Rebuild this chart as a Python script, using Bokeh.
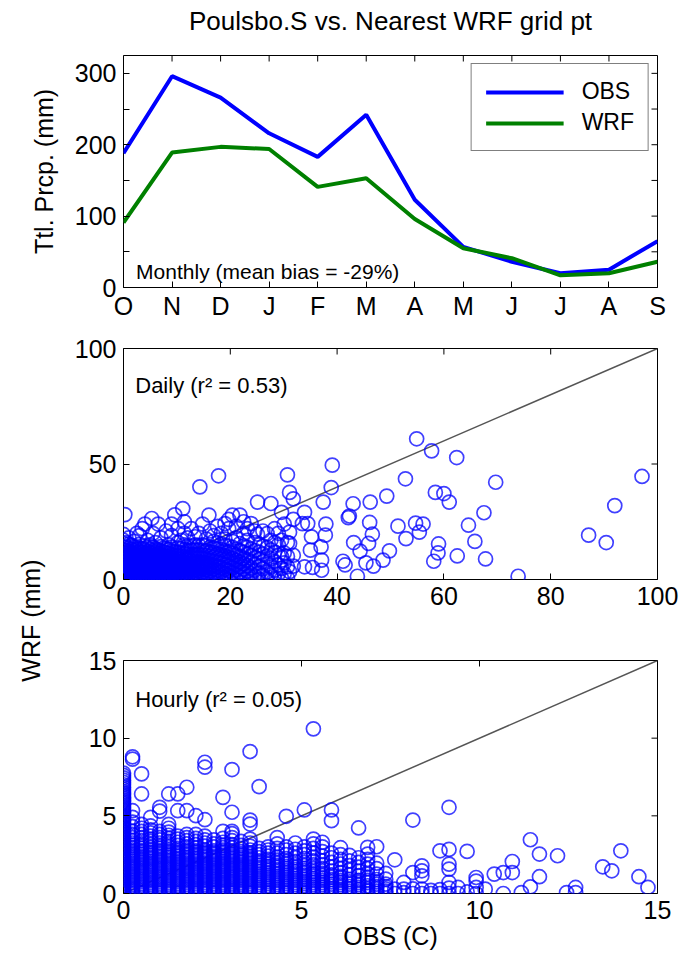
import numpy as np
from bokeh.plotting import figure
from bokeh.models import (ColumnDataSource, FixedTicker, Range1d, Label,
                          Legend, LegendItem, Slope)
from bokeh.layouts import column, row
from bokeh.embed import file_html
from bokeh.resources import INLINE

FONT = "Liberation Sans"
TICK_FS = "25px"
LAB_FS = "25px"
NOTE_FS = "22px"


def vals(s):
    return [float(t) for t in s.split()]


# ---------------- data ----------------
title_text = "Poulsbo.S vs. Nearest WRF grid pt"
months = ["O", "N", "D", "J", "F", "M", "A", "M", "J", "J", "A", "S"]
obs_monthly = [188, 296, 266, 216, 183, 242, 123, 57, 36, 20, 25, 65]
wrf_monthly = [91, 189, 197, 194, 141, 153, 96, 55, 41, 17, 20, 36]

# daily: OBS value and the WRF values read at that OBS value
daily_obs_levels = [0.0, 0.25, 0.5, 1.0, 1.5, 2.0, 2.5, 3.0, 3.5, 4.0, 4.5, 5.0, 5.3, 5.5,
                    6.0, 6.5, 7.0, 7.5, 8.0, 8.5, 9.0, 9.6, 10.2, 10.8, 11.1, 11.4, 12.0,
                    12.7, 13.4, 14.1, 14.3, 14.8, 15.5, 16.0, 16.2, 16.9, 17.6, 17.8, 18.3,
                    19.0, 19.7, 20.4, 21.1, 21.8, 22.5, 23.2, 23.9, 24.6, 25.1, 25.4, 26.1,
                    26.9, 27.6, 28.3, 29.0, 29.6, 30.1, 30.7, 31.1, 31.8, 33.5, 33.9, 34.5,
                    35.0, 35.2, 35.4, 37.0, 37.1, 37.4, 37.8, 37.9, 38.9, 39.1, 41.1, 41.5,
                    42.1, 42.3, 43.0, 43.1, 43.8, 44.3, 45.4, 45.9, 46.1, 46.2, 46.6, 46.8,
                    48.6, 49.3, 49.8, 51.4, 52.8, 52.9, 54.7, 54.9, 55.4, 56.1, 57.7, 58.1,
                    58.4, 58.9, 59.0, 60.0, 61.0, 62.4, 62.5, 64.6, 65.8, 67.5, 67.8, 69.7,
                    73.9, 87.1, 90.4, 92.0, 97.1]
daily_wrf_at_level = [vals(s) for s in [
    "0 0.6 1.3 2.1 2.8 3.6 4.5 5.3 6.1 7.0 7.8 8.7 9.6 10.5 11.6 12.8 14.1 15.5 17 19.5",
    "28.1",
    "0.2 1.0 1.8 2.5 3.3 4.1 5.0 5.8 6.7 7.5 8.4 9.3 10.2 11.3 12.5 14 16",
    "0 0.7 1.5 2.3 3.0 3.9 4.7 5.5 6.4 7.2 8.1 9.0 9.9 11 12.2 13.5 15.3 18",
    "0.4 1.2 2.0 2.8 3.5 4.4 5.2 6.0 6.9 7.7 8.6 9.5 10.6 11.8 13.1 14.7",
    "0 0.8 1.6 2.4 3.2 4.0 4.9 5.7 6.5 7.4 8.2 9.1 10.1 11.2 12.6 14.2 16.5",
    "0.3 1.1 1.9 2.7 3.5 4.3 5.1 6.0 6.8 7.6 8.5 9.4 10.4 11.5 12.9 20",
    "0 0.7 1.5 2.3 3.1 3.9 4.7 5.5 6.3 7.2 8.0 8.9 9.8 10.9 12.1 13.6 15.2 19",
    "0.4 1.2 2.0 2.8 3.6 4.5 5.3 6.1 7.0 7.8 8.7 9.6 10.7 11.9 13.3 22",
    "0 0.9 1.7 2.5 3.3 4.1 5.0 5.8 6.6 7.5 8.3 9.2 10.2 11.4 12.8 14.5 24",
    "0.3 1.1 1.9 2.7 3.6 4.4 5.2 6.1 6.9 7.8 8.7 9.7 10.8 12.1 13.8 17",
    "0 0.8 1.6 2.4 3.2 4.0 4.8 5.7 6.5 7.4 8.3 9.2 10.3 11.5 13.0 15",
    "26.4",
    "0.5 1.3 2.1 2.9 3.8 4.6 5.4 6.3 7.1 8.0 8.9 9.9 11.1 12.4 14 20",
    "0 0.8 1.6 2.5 3.3 4.1 5.0 5.8 6.7 7.5 8.4 9.4 10.5 11.8 13.4 16",
    "0.3 1.2 2.0 2.8 3.7 4.5 5.4 6.2 7.1 8.0 8.9 10.0 11.3 12.8 24",
    "0 0.9 1.7 2.6 3.4 4.3 5.1 6.0 6.9 7.8 8.7 9.7 10.9 12.3 14.2 18",
    "0.4 1.3 2.1 3.0 3.8 4.7 5.6 6.4 7.3 8.3 9.3 10.5 12 13.6",
    "0 0.8 1.7 2.5 3.4 4.3 5.1 6.0 6.9 7.9 8.9 10.1 11.5 13.2 21",
    "0.5 1.3 2.2 3.1 3.9 4.8 5.7 6.6 7.6 8.6 9.8 11.2 12.9 15",
    "0 0.9 1.8 2.6 3.5 4.4 5.3 6.2 7.2 8.2 9.4 10.7 12.2 14 19 24",
    "0.4 1.3 2.2 3.1 4.0 4.9 5.9 6.9 7.9 9.1 10.4 12 28.0",
    "0 0.9 1.8 2.7 3.7 4.6 5.6 6.6 7.7 8.9 10.2 11.8 13.6 16 22",
    "0.5 1.5 2.4 3.4 4.4 5.4 6.5 7.6 8.8 10.1 11.6 13.4 17",
    "30.7",
    "0 1.0 2.0 3.0 4.1 5.1 6.2 7.3 8.5 9.8 11.3 13 15 20 25",
    "0.6 1.6 2.7 3.7 4.8 5.9 7.0 8.2 9.5 11 12.7 14.6 18",
    "0 1.1 2.2 3.3 4.4 5.6 6.8 8.0 9.4 10.9 12.6 14.5 22",
    "0.5 1.7 2.9 4.1 5.3 6.6 7.9 9.3 10.9 12.7 15 18.5",
    "0 1.2 2.4 3.7 5.0 6.3 7.7 9.2 10.8 12.6 14.8 20",
    "40.1",
    "0.6 1.9 3.2 4.6 6.0 7.5 9.0 10.7 12.6 15 24",
    "0 1.4 2.8 4.2 5.7 7.2 8.8 10.5 12.4 14.6 17.5",
    "27.9",
    "0.7 2.1 3.6 5.1 6.7 8.3 10.0 11.9 14 21",
    "0 1.5 3.0 4.6 6.2 7.9 9.7 11.6 13.7 16.5 19",
    "0.8 2.4 4.0 5.7 7.4 9.2 11.1 13.2 15.8 23",
    "44.9",
    "0 1.7 3.4 5.1 6.9 8.8 10.8 13 15.4 20",
    "0.9 2.6 4.4 6.3 8.2 10.2 12.4 14.8 17.5 24.2",
    "0 1.8 3.7 5.6 7.6 9.7 12 14.5 22 26",
    "1.0 2.9 4.9 6.9 9.1 11.4 13.9 16.5 27.9",
    "0 2.0 4.0 6.1 8.3 10.6 13.1 18 23",
    "1.1 3.2 5.4 7.6 10 12.5 15.5 27.9",
    "0 2.2 4.5 6.8 9.2 11.8 14.6 20 25",
    "1.3 3.6 6.0 8.5 11.1 13.9 17 22",
    "0 2.5 5.0 7.6 10.3 13.2 24.2",
    "1.5 4.0 6.7 9.5 12.5 16 21",
    "19.6 33.5",
    "0 2.8 5.6 8.6 11.8 15",
    "1.7 4.6 7.7 11 14.5 21",
    "0 3.2 6.5 10 13.8 19.9",
    "2.0 5.4 9.0 12.8 17 32.9",
    "0.4 4.0 7.8 11.8 16 22",
    "2.4 6.4 10.6 15 20",
    "0.4 4.8 9.8 17 29.1",
    "2.6 7.2 11.5 24",
    "0.6 5.5 10 16 45.3",
    "3.4 15.6 20.5 37.7",
    "5.8 10.5 26 34.9",
    "24.2", "5.5 29.1", "24.2", "12.7", "18.5", "5.2", "14.1", "4.0 8.4", "33.5",
    "19.2", "24.0", "39.8", "49.5", "7.9", "6.3", "26.8", "27.5", "32.8", "16.0",
    "1.4", "12.3", "7.2", "15.6", "24.7", "33.5", "19.6", "5.8", "8.4", "36.1",
    "12.4", "23.1", "43.6", "17.7", "24.4", "60.9", "20.5", "24.0", "55.7", "7.9",
    "37.7", "11.5", "15.4", "37.2", "33.5", "52.8", "10.2", "23.5", "16.5", "28.9",
    "8.9", "42.1", "1.4", "19.2", "16.0", "32.0", "44.6",
]]

# hourly: OBS value (0.254 mm steps) and the WRF values read at that OBS value
hourly_obs_levels = [0.0, 0.254, 0.508, 0.762, 1.016, 1.27, 1.524, 1.778, 2.032, 2.286, 2.54,
                     2.794, 3.048, 3.302, 3.556, 3.81, 4.064, 4.318, 4.572, 4.826, 5.08, 5.334,
                     5.588, 5.842, 6.096, 6.35, 6.604, 6.858, 7.112, 7.366, 7.62, 7.874, 8.128,
                     8.382, 8.636, 8.89, 9.144, 9.398, 9.652, 9.906, 10.16, 10.414, 10.668,
                     10.922, 11.176, 11.43, 11.684, 12.192, 12.446, 12.7, 13.462, 13.716,
                     13.97, 14.478, 14.732]
hourly_wrf_at_level = [vals(s) for s in [
    "0 .08 .17 .25 .33 .42 .5 .6 .68 .77 .85 .95 1.03 1.12 1.2 1.3 1.38 1.47 1.55 1.65 1.73 "
    "1.82 1.9 2 2.08 2.17 2.25 2.35 2.43 2.52 2.6 2.7 2.78 2.87 2.95 3.05 3.13 3.22 3.3 3.4 "
    "3.48 3.57 3.65 3.75 3.83 3.92 4 4.1 4.18 4.27 4.35 4.45 4.53 4.62 4.7 4.8 4.88 4.97 5.05 "
    "5.15 5.25 5.35 5.45 5.55 5.65 5.75 5.85 5.95 6.05 6.15 6.25 6.35 6.45 6.55 6.7 6.85 7 "
    "7.15 7.3 7.45 7.6 7.75",
    "0 .12 .23 .35 .47 .58 .7 .82 .93 1.05 1.17 1.28 1.4 1.52 1.63 1.75 1.87 1.98 2.1 2.22 "
    "2.33 2.45 2.57 2.68 2.8 2.95 3.1 3.25 3.4 3.6 3.8 4.0 4.3 4.6 4.9 5.33 8.65 8.8",
    "0 .06 .18 .29 .41 .53 .64 .76 .88 .99 1.11 1.23 1.34 1.46 1.58 1.69 1.81 1.93 2.04 2.16 "
    "2.28 2.39 2.51 2.63 2.74 2.9 3.05 3.2 3.4 3.6 3.8 4.0 4.2 4.45 6.41 7.7",
    "0 .11 .22 .34 .46 .57 .69 .81 .92 1.04 1.16 1.27 1.39 1.51 1.62 1.74 1.86 1.97 2.09 2.21 "
    "2.32 2.44 2.56 2.67 2.79 2.95 3.15 3.35 3.5 3.7 3.9 4.1 4.35 4.9",
    "0 .07 .19 .3 .42 .54 .65 .77 .89 1.0 1.12 1.24 1.35 1.47 1.59 1.7 1.82 1.94 2.05 2.17 "
    "2.29 2.4 2.52 2.64 2.75 2.9 3.05 3.25 3.45 3.6 3.8 4.0 5.3 5.55",
    "0 .12 .24 .35 .47 .59 .7 .82 .94 1.05 1.17 1.29 1.4 1.52 1.64 1.75 1.87 1.99 2.1 2.22 "
    "2.34 2.45 2.57 2.69 2.8 3.0 3.2 3.35 3.55 3.75 3.95 4.2 4.45 6.41",
    "0 .06 .17 .29 .41 .52 .64 .76 .87 .99 1.11 1.22 1.34 1.46 1.57 1.69 1.81 1.92 2.04 2.16 "
    "2.27 2.39 2.51 2.62 2.74 2.9 3.1 3.3 3.5 3.7 5.33 6.41",
    "0 .11 .23 .35 .46 .58 .7 .81 .93 1.05 1.16 1.28 1.4 1.51 1.63 1.75 1.86 1.98 2.1 2.21 "
    "2.33 2.45 2.56 2.68 2.8 3.0 3.2 3.4 3.6 3.8 5.33 6.84",
    "0 .07 .18 .3 .42 .53 .65 .77 .88 1.0 1.12 1.23 1.35 1.47 1.58 1.7 1.82 1.93 2.05 2.17 "
    "2.28 2.4 2.52 2.63 2.75 2.95 3.15 3.35 3.55 3.8 5.01",
    "0 .12 .23 .35 .47 .58 .7 .82 .93 1.05 1.17 1.28 1.4 1.52 1.63 1.75 1.87 1.98 2.1 2.22 "
    "2.33 2.45 2.57 2.68 2.8 3.05 3.25 3.45 3.7 4.75 8.13 8.45",
    "0 .06 .18 .29 .41 .53 .64 .76 .88 .99 1.11 1.23 1.34 1.46 1.58 1.69 1.81 1.93 2.04 2.16 "
    "2.28 2.39 2.51 2.63 2.74 3.0 3.2 3.45",
    "0 .11 .22 .34 .46 .57 .69 .81 .92 1.04 1.16 1.27 1.39 1.51 1.62 1.74 1.86 1.97 2.09 2.21 "
    "2.32 2.44 2.56 2.67 2.79 2.95 3.1 3.3 3.55 4.0 6.19",
    "0 .07 .19 .3 .42 .54 .65 .77 .89 1.0 1.12 1.24 1.35 1.47 1.59 1.7 1.82 1.94 2.05 2.17 "
    "2.29 2.4 2.52 2.64 2.75 2.95 3.15 3.4 3.6 3.85 4.0 5.23 7.98",
    "0 .12 .24 .35 .47 .59 .7 .82 .94 1.05 1.17 1.29 1.4 1.52 1.64 1.75 1.87 1.99 2.1 2.22 "
    "2.34 2.45 2.57 2.69 2.9 3.1 3.35",
    "0 .06 .17 .29 .41 .52 .64 .76 .87 .99 1.11 1.22 1.34 1.46 1.57 1.69 1.81 1.92 2.04 2.16 "
    "2.27 2.39 2.51 2.62 2.8 3.05 3.25 3.5 4.47 4.73 9.14",
    "0 .14 .28 .42 .56 .7 .84 .98 1.12 1.26 1.4 1.54 1.68 1.82 1.96 2.1 2.3 2.5 2.7 2.9 6.88",
    "0 .07 .21 .35 .49 .63 .77 .91 1.05 1.19 1.33 1.47 1.61 1.75 1.89 2.03 2.2 2.4 2.6 2.8 3.0",
    "0 .14 .28 .42 .56 .7 .84 .98 1.12 1.26 1.4 1.54 1.68 1.82 1.96 2.15 2.35 2.6 2.9 3.2 3.6",
    "0 .07 .21 .35 .49 .63 .77 .91 1.05 1.19 1.33 1.47 1.61 1.75 1.9 2.05 2.25 2.5 2.8 3.0 4.97",
    "0 .14 .28 .42 .56 .7 .84 .98 1.12 1.26 1.4 1.54 1.68 1.85 2.05 2.3 2.6 2.85 3.25",
    "0 .07 .21 .35 .49 .63 .77 .91 1.05 1.19 1.33 1.47 1.61 1.8 2.0 2.25 2.5 2.75 3.0 5.38",
    "0 .14 .28 .42 .56 .7 .84 .98 1.12 1.26 1.4 1.6 1.85 2.1 2.35 2.6 2.9 3.2 3.5 10.6",
    "0 .1 .25 .4 .55 .7 .85 1.0 1.15 1.3 1.45 1.6 1.85 2.1 2.4 2.7 3.0 3.3",
    "0 .15 .3 .45 .6 .75 .9 1.05 1.2 1.45 1.7 2.0 2.3 2.6 4.69 5.38",
    "0 .1 .25 .4 .55 .7 .85 1.0 1.1 1.35 1.6 1.9 2.2 2.5 2.95",
    "0 .15 .3 .45 .6 .75 .9 1.2 1.5 1.8 2.1 2.45",
    "0 .1 .25 .4 .55 .7 .85 1.15 1.45 1.7 2.0 2.3 4.22",
    "0 .15 .3 .5 .7 .85 1.05 1.25 1.6 1.89 2.2 2.54 2.97",
    "0 .15 .3 .45 .6 .75 .9 1.25 1.6 1.95 3.01",
    "0 .15 .3 .45 .6 .92 1.3",
    "0 .28 2.17",
    "0.05 .28 .71",
    "0 .3 1.35 4.73",
    "0 .28 1.14 1.46 1.78",
    "0 .2",
    "0 .25 2.75",
    "0 .35 .71 1.57 1.89 2.84 5.55",
    "0 .39",
    "0.1 2.71",
    "0 .39 .8 1.03",
    "0.28", "1.25", "0 1.35", "1.35 2.06", "0.06", "0.43 3.46", "1.08 2.54", "2.43",
    "0.06", "0.06 0.39", "1.72", "1.46", "2.75", "1.08", "0.39",
]]

month_idx = list(range(len(months)))


def flatten(levels, groups):
    xs, ys = [], []
    for lv, g in zip(levels, groups):
        xs.extend([lv] * len(g))
        ys.extend(g)
    return xs, ys


daily_obs, daily_wrf = flatten(daily_obs_levels, daily_wrf_at_level)
hourly_obs, hourly_wrf = flatten(hourly_obs_levels, hourly_wrf_at_level)


# ---------------- styling helpers ----------------
def style(p, xt, yt, xminor=(), yminor=(), xover=None, yover=None):
    xtick = FixedTicker(ticks=list(xt), minor_ticks=list(xminor))
    ytick = FixedTicker(ticks=list(yt), minor_ticks=list(yminor))
    p.xgrid.visible = False
    p.ygrid.visible = False
    p.outline_line_color = "black"
    p.outline_line_width = 1
    for ax, tk, ov in ((p.below[0], xtick, xover), (p.left[0], ytick, yover)):
        ax.ticker = tk
        if ov:
            ax.major_label_overrides = ov
        ax.axis_line_color = None
        ax.major_tick_in = 6
        ax.major_tick_out = 0
        ax.minor_tick_in = 6
        ax.minor_tick_out = 0
        ax.major_tick_line_color = "black"
        ax.minor_tick_line_color = "black"
        ax.major_label_text_font = FONT
        ax.major_label_text_font_size = TICK_FS
        ax.major_label_text_color = "black"
        ax.major_label_standoff = 7
        ax.axis_label_text_font = FONT
        ax.axis_label_text_font_size = LAB_FS
        ax.axis_label_text_font_style = "normal"
        ax.axis_label_text_color = "black"
    # mirrored tick marks on the top and right frame edges (half clipped by the frame)
    top_x = list(xt) + list(xminor)
    right_y = list(yt) + list(yminor)
    p.scatter(top_x, [p.y_range.end] * len(top_x), marker="dash", size=12,
              angle=np.pi / 2, line_color="black", line_width=1)
    p.scatter([p.x_range.end] * len(right_y), right_y, marker="dash", size=12,
              line_color="black", line_width=1)


def blank_figure(w, h):
    f = figure(width=w, height=h, x_range=Range1d(0, 1), y_range=Range1d(0, 1),
               output_backend="svg", toolbar_location=None, x_axis_type=None,
               y_axis_type=None, min_border=0, outline_line_color=None)
    f.xgrid.visible = False
    f.ygrid.visible = False
    return f


# ---------------- title strip ----------------
pt = blank_figure(695, 40)
pt.add_layout(Label(x=0.5, y=0.5, text=title_text, text_font=FONT, text_font_size="26px",
                    text_align="center", text_baseline="middle", text_color="black"))

# ---------------- top panel ----------------
p1 = figure(width=695, height=290, x_range=Range1d(0, 11), y_range=Range1d(0, 325),
            output_backend="svg", toolbar_location=None,
            min_border_left=123, min_border_right=38, min_border_top=15, min_border_bottom=43)
style(p1, month_idx, [0, 100, 200, 300], yminor=[50, 150, 250],
      xover={i: m for i, m in enumerate(months)})
p1.below[0].major_label_standoff = 4
p1.left[0].axis_label = "Ttl. Prcp. (mm)"
p1.left[0].axis_label_standoff = 14

src_m = ColumnDataSource(dict(m=month_idx, obs=obs_monthly, wrf=wrf_monthly))
r_obs = p1.line("m", "obs", source=src_m, line_color="#0000ff", line_width=4)
r_wrf = p1.line("m", "wrf", source=src_m, line_color="#008000", line_width=4)
legend = Legend(items=[LegendItem(label="OBS", renderers=[r_obs]),
                       LegendItem(label="WRF", renderers=[r_wrf])],
                location="top_right", margin=8, padding=14, spacing=4,
                glyph_width=78, glyph_height=20, label_height=20, label_standoff=18,
                label_text_font=FONT, label_text_font_size="23px", label_text_color="black",
                border_line_color="black", border_line_width=1,
                background_fill_color="white", background_fill_alpha=1)
p1.add_layout(legend)
p1.add_layout(Label(x=0.26, y=23, text="Monthly (mean bias = -29%)", text_font=FONT,
                    text_font_size="21px", text_baseline="middle", text_align="left",
                    text_color="black"))

CIRC = dict(marker="circle", size=14, fill_color=None, line_color="#0000ff",
            line_alpha=0.75, line_width=1.7)

# ---------------- daily panel ----------------
p2 = figure(width=635, height=305, x_range=Range1d(0, 100), y_range=Range1d(0, 100),
            output_backend="svg", toolbar_location=None,
            min_border_left=63, min_border_right=38, min_border_top=18, min_border_bottom=56)
p2.add_layout(Slope(gradient=1, y_intercept=0, line_color="#555555", line_width=1.5,
                    level="underlay"))
p2.scatter("x", "y", source=ColumnDataSource(dict(x=daily_obs, y=daily_wrf)), **CIRC)
style(p2, [0, 20, 40, 60, 80, 100], [0, 50, 100])
p2.add_layout(Label(x=2.2, y=84, text="Daily (r² = 0.53)", text_font=FONT,
                    text_font_size=NOTE_FS, text_baseline="middle", text_align="left",
                    text_color="black"))

# ---------------- hourly panel ----------------
p3 = figure(width=635, height=327, x_range=Range1d(0, 15), y_range=Range1d(0, 15),
            output_backend="svg", toolbar_location=None,
            min_border_left=63, min_border_right=38, min_border_top=25, min_border_bottom=69)
p3.add_layout(Slope(gradient=1, y_intercept=0, line_color="#555555", line_width=1.5,
                    level="underlay"))
p3.scatter("x", "y", source=ColumnDataSource(dict(x=hourly_obs, y=hourly_wrf)), **CIRC)
style(p3, [0, 5, 10, 15], [0, 5, 10, 15])
p3.below[0].axis_label = "OBS (C)"
p3.below[0].axis_label_standoff = 0
p3.add_layout(Label(x=0.33, y=12.5, text="Hourly (r² = 0.05)", text_font=FONT,
                    text_font_size=NOTE_FS, text_baseline="middle", text_align="left",
                    text_color="black"))

# ---------------- shared y label ----------------
pl = blank_figure(60, 632)
pl.add_layout(Label(x=0.5, y=0.541, text="WRF (mm)", angle=90, angle_units="deg",
                    text_font=FONT, text_font_size=LAB_FS, text_align="center",
                    text_baseline="middle", text_color="black"))

layout = column(pt, p1, row(pl, column(p2, p3, spacing=0), spacing=0), spacing=0)
open("out.html", "w").write(file_html(layout, INLINE))
